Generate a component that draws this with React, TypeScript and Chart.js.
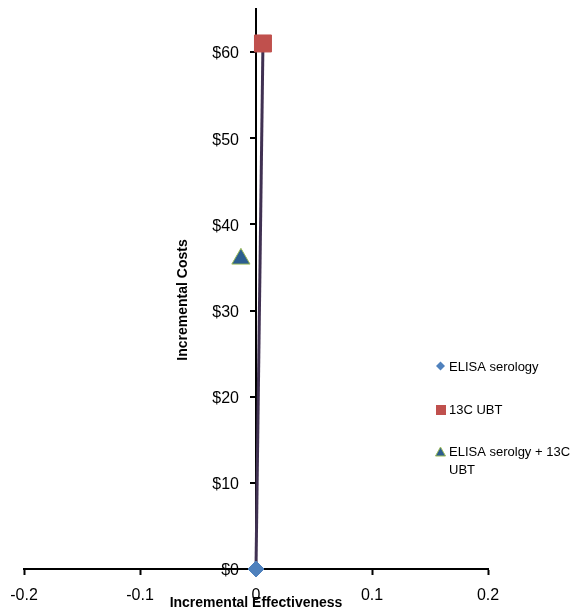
import React, { useEffect, useRef } from "react";
import { Chart, registerables } from "chart.js";

Chart.register(...registerables);

const seriesNames = ["ELISA serology", "13C UBT", "ELISA serolgy + 13C UBT"];
const effectiveness = [0, 0.006, -0.013];
const costs = [0, 61, 36];
const frontierX = [0, 0.006];
const frontierY = [0, 61];
const xTicks = [-0.2, -0.1, 0, 0.1, 0.2];
const yTicks = [0, 10, 20, 30, 40, 50, 60];
const xTitle = "Incremental Effectiveness";
const yTitle = "Incremental Costs";

const FONT = "'Liberation Sans', Arial, sans-serif";

const zeroPad = (s: any) => {
  s.paddingTop = 0;
  s.paddingBottom = 0;
  s.paddingLeft = 0;
  s.paddingRight = 0;
};

const yLabels = {
  id: "yLabels",
  beforeDraw(chart: any) {
    const ctx = chart.ctx;
    const sx = chart.scales.x;
    const sy = chart.scales.y;
    const x0 = sx.getPixelForValue(0);
    ctx.save();
    ctx.fillStyle = "#000";
    ctx.font = `16px ${FONT}`;
    ctx.textAlign = "right";
    ctx.textBaseline = "middle";
    yTicks.forEach((v) => {
      const py = sy.getPixelForValue(v);
      ctx.fillText("$" + v, x0 - 17, py + 2);
    });
    ctx.restore();
  },
};

const overlay = {
  id: "overlay",
  beforeDatasetsDraw(chart: any) {
    const ctx = chart.ctx;
    const sx = chart.scales.x;
    const sy = chart.scales.y;
    const x0 = sx.getPixelForValue(0);
    ctx.save();
    ctx.strokeStyle = "#000";
    ctx.lineWidth = 2;
    yTicks.forEach((v) => {
      const py = Math.round(sy.getPixelForValue(v));
      ctx.beginPath();
      ctx.moveTo(x0 - 6, py);
      ctx.lineTo(x0, py);
      ctx.stroke();
    });
    ctx.restore();
  },
  afterDraw(chart: any) {
    const ctx = chart.ctx;
    ctx.save();
    ctx.fillStyle = "#000";
    ctx.font = `bold 14px ${FONT}`;
    ctx.textAlign = "center";
    ctx.textBaseline = "middle";
    ctx.fillText(xTitle, 256, 603);
    ctx.translate(183, 300);
    ctx.rotate(-Math.PI / 2);
    ctx.fillText(yTitle, 0, 0);
    ctx.restore();

    // legend
    ctx.save();
    ctx.font = `13px ${FONT}`;
    ctx.textAlign = "left";
    ctx.textBaseline = "alphabetic";
    ctx.fillStyle = "#4F81BD";
    ctx.beginPath();
    ctx.moveTo(440.5, 361.5);
    ctx.lineTo(445, 366);
    ctx.lineTo(440.5, 370.5);
    ctx.lineTo(436, 366);
    ctx.closePath();
    ctx.fill();
    ctx.fillStyle = "#000";
    ctx.fillText(seriesNames[0], 449, 371);
    ctx.fillStyle = "#C0504D";
    ctx.fillRect(436, 405, 10, 10);
    ctx.fillStyle = "#000";
    ctx.fillText(seriesNames[1], 449, 414);
    ctx.fillStyle = "#2C5D8F";
    ctx.strokeStyle = "#9BBB59";
    ctx.lineWidth = 1;
    ctx.beginPath();
    ctx.moveTo(440.5, 447);
    ctx.lineTo(445.5, 456);
    ctx.lineTo(435.5, 456);
    ctx.closePath();
    ctx.fill();
    ctx.stroke();
    ctx.fillStyle = "#000";
    ctx.fillText("ELISA serolgy + 13C", 449, 456);
    ctx.fillText("UBT", 449, 474);
    ctx.restore();
  },
};

export default function App() {
  const ref = useRef<HTMLCanvasElement>(null);
  useEffect(() => {
    if (!ref.current) return;
    const chart = new Chart(ref.current, {
      type: "scatter",
      data: {
        datasets: [
          {
            label: seriesNames[0],
            data: [{ x: effectiveness[0], y: costs[0] }],
            pointStyle: "rectRot",
            pointRadius: 8,
            backgroundColor: "#4F81BD",
            borderColor: "#4F81BD",
            borderWidth: 1,
            clip: false,
          },
          {
            label: seriesNames[1],
            data: [{ x: effectiveness[1], y: costs[1] }],
            pointStyle: "rect",
            pointRadius: 12,
            backgroundColor: "#C0504D",
            borderColor: "#C0504D",
            borderWidth: 1,
            clip: false,
          },
          {
            label: seriesNames[2],
            data: [{ x: effectiveness[2], y: costs[2] }],
            pointStyle: "triangle",
            pointRadius: 10.5,
            backgroundColor: "#2C5D8F",
            borderColor: "#9BBB59",
            borderWidth: 1,
            clip: false,
          },
          {
            label: "frontier",
            data: frontierX.map((x, i) => ({ x, y: frontierY[i] })),
            showLine: true,
            borderColor: "#403152",
            borderWidth: 3,
            pointRadius: 0,
            clip: false,
          },
        ],
      },
      options: {
        animation: false,
        responsive: false,
        events: [],
        layout: { autoPadding: false, padding: { left: 24, right: 85, top: 9, bottom: 42 } },
        plugins: { legend: { display: false }, tooltip: { enabled: false } },
        scales: {
          x: {
            type: "linear",
            position: { y: 0 },
            min: -0.2,
            max: 0.2,
            afterBuildTicks: (s: any) => {
              s.ticks = xTicks.map((v) => ({ value: v }));
            },
            afterFit: zeroPad,
            ticks: {
              autoSkip: false,
              maxRotation: 0,
              padding: 12,
              color: "#000",
              font: { family: FONT, size: 16 },
              callback: (v: any) => String(Number(Number(v).toFixed(1))),
            },
            grid: {
              drawOnChartArea: false,
              drawTicks: true,
              tickLength: 5,
              tickWidth: 2,
              tickColor: "#000",
            },
            border: { display: true, color: "#000", width: 2 },
          },
          y: {
            type: "linear",
            position: { x: 0 },
            min: 0,
            max: 65,
            afterBuildTicks: (s: any) => {
              s.ticks = yTicks.map((v) => ({ value: v }));
            },
            afterFit: zeroPad,
            ticks: { display: false },
            grid: { display: false, drawOnChartArea: false, drawTicks: false },
            border: { display: true, color: "#000", width: 2 },
          },
        },
      },
      plugins: [yLabels, overlay],
    });
    return () => chart.destroy();
  }, []);
  return (
    <div style={{ position: "fixed", left: 0, top: 0, width: 573, height: 611, background: "#fff" }}>
      <canvas ref={ref} width={573} height={611} style={{ width: 573, height: 611, display: "block" }} />
    </div>
  );
}
